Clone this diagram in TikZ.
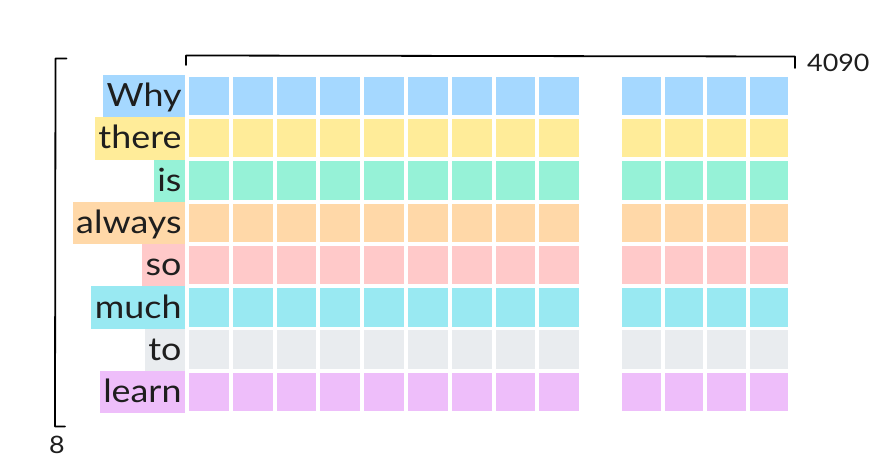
\documentclass[tikz,border=0pt]{standalone}
\usepackage{fontspec}
\setmainfont{Lato}[FakeStretch=1.12]
\definecolor{ink}{HTML}{1E1E1E}
\definecolor{cA}{HTML}{A5D8FF}
\definecolor{cB}{HTML}{FFEC99}
\definecolor{cC}{HTML}{96F2D7}
\definecolor{cD}{HTML}{FFD8A8}
\definecolor{cE}{HTML}{FFC9C9}
\definecolor{cF}{HTML}{99E9F2}
\definecolor{cG}{HTML}{E9ECEF}
\definecolor{cH}{HTML}{EEBEFA}
\tikzset{
  cellbox/.style={inner sep=0pt, outer sep=0pt, anchor=north west, minimum height=38.5pt},
  wordbox/.style={inner xsep=3.5pt, inner ysep=0pt, outer sep=0pt, anchor=north east,
    minimum height=42.3pt, text height=28pt, text depth=7pt, text=ink,
    font=\fontsize{32}{36}\selectfont},
  bracket/.style={draw=black, line width=1.8pt, line cap=round, line join=round},
  countlabel/.style={text=ink, inner sep=0pt, font=\fontsize{24}{28}\selectfont}
}
\begin{document}
\begin{tikzpicture}[x=1pt,y=-1pt]
\useasboundingbox (0,0) rectangle (876,470);
\foreach \col/\word [count=\i from 0] in {cA/Why,cB/there,cC/is,cD/always,cE/so,cF/much,cG/to,cH/learn}{
  \node[wordbox, fill=\col] (lab\i) at (185,{75+42.3*\i}) {\word};
  \foreach \j in {0,...,8}{
    \node[cellbox, fill=\col, minimum width=39.8pt] (cl-\i-\j) at ({189+43.8*\j},{76.7+42.3*\i}) {};
  }
  \foreach \j in {0,...,3}{
    \node[cellbox, fill=\col, minimum width=38.5pt] (cr-\i-\j) at ({622+42.5*\j},{76.7+42.3*\i}) {};
  }
}
% left bracket (rows)
\coordinate (lt) at (66.5,58.5);
\coordinate (lb) at (65,426.5);
\draw[bracket] (lt) -- (55.5,58.5) -- (55,426.5) -- (lb);
\node[countlabel] (rows) at (57,444.5) {8};
% top bracket (columns)
\coordinate (ta) at (186,65);
\coordinate (tb) at (795,68);
\draw[bracket] (ta) -- (186,55.5) -- (795,56.5) -- (tb);
\node[countlabel, anchor=west] (cols) at (807,62.5) {4090};
\end{tikzpicture}
\end{document}
